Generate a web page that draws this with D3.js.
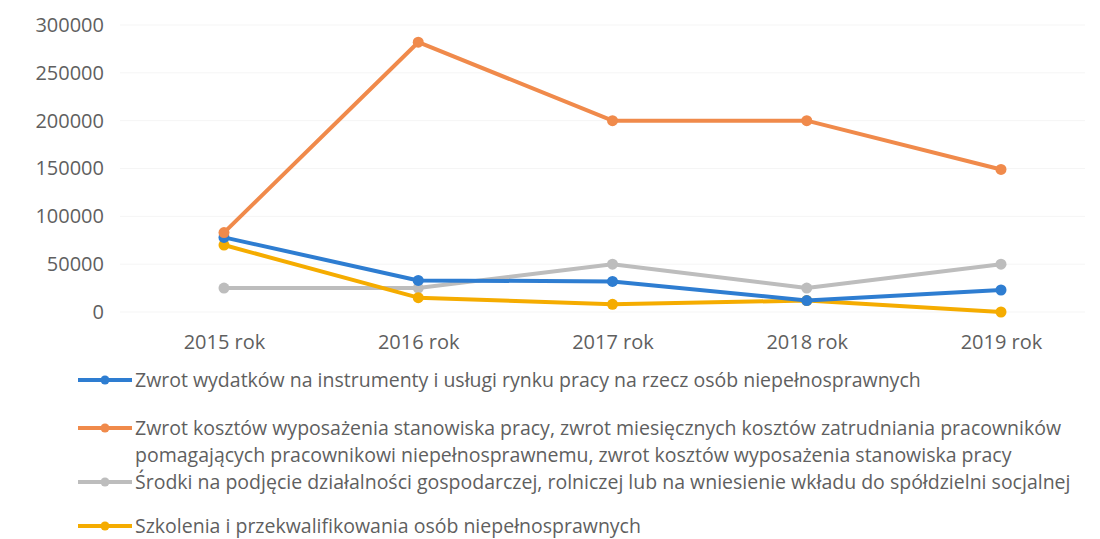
<!DOCTYPE html>
<html><head><meta charset="utf-8">
<script src="https://cdn.jsdelivr.net/npm/d3@7"></script>
<style>body{margin:0;background:#fff}svg{display:block}</style>
</head><body>
<svg id="c" width="1100" height="539"></svg>
<script>
const categories = ["2015 rok","2016 rok","2017 rok","2018 rok","2019 rok"];
const yTicks = [0,50000,100000,150000,200000,250000,300000];
const seriesNames = [
  "Zwrot wydatków na instrumenty i usługi rynku pracy na rzecz osób niepełnosprawnych",
  "Zwrot kosztów wyposażenia stanowiska pracy, zwrot miesięcznych kosztów zatrudniania pracowników|pomagających pracownikowi niepełnosprawnemu, zwrot kosztów wyposażenia stanowiska pracy",
  "Środki na podjęcie działalności gospodarczej, rolniczej lub na wniesienie wkładu do spółdzielni socjalnej",
  "Szkolenia i przekwalifikowania osób niepełnosprawnych"
];
const blueValues = [78000,33000,32000,12000,23000];
const orangeValues = [83000,282000,200000,200000,149000];
const grayValues = [25000,25000,50000,25000,50000];
const yellowValues = [70000,15000,8000,12000,0];
const colors = ["#2e7dd1","#f08a4b","#bdbdbd","#f5ac00"];
const allValues = [blueValues, orangeValues, grayValues, yellowValues];

const svg = d3.select("#c");
const x = d3.scalePoint().domain(categories).range([224,1001]);
const y = d3.scaleLinear().domain([0,300000]).range([312,25]);
const font = "'Open Sans', sans-serif";
const txt = "#5f5f5f";

svg.append("g").selectAll("line").data(yTicks).join("line")
  .attr("x1",120).attr("x2",1085).attr("y1",d=>y(d)).attr("y2",d=>y(d))
  .attr("stroke","#f5f5f5").attr("stroke-width",1);

const yAxis = svg.append("g").attr("transform","translate(104,0)")
  .call(d3.axisLeft(y).tickValues(yTicks).tickSize(0).tickPadding(0).tickFormat(d=>String(d)));
yAxis.select(".domain").remove();
yAxis.selectAll("text").attr("font-family",font).attr("font-size",20).attr("fill",txt);

const xAxis = svg.append("g").attr("transform","translate(0,330)")
  .call(d3.axisBottom(x).tickSize(0).tickPadding(0));
xAxis.select(".domain").remove();
xAxis.selectAll("text").attr("font-family",font).attr("font-size",20).attr("fill",txt)
  .attr("dy","0.35em").attr("y",12);

const line = d3.line().x((d,i)=>x(categories[i])).y(d=>y(d));
[2,3,0,1].forEach(si=>{
  const g = svg.append("g");
  g.append("path").datum(allValues[si]).attr("d",line)
    .attr("fill","none").attr("stroke",colors[si]).attr("stroke-width",4).attr("stroke-linejoin","round");
  g.selectAll("circle").data(allValues[si]).join("circle")
    .attr("cx",(d,i)=>x(categories[i])).attr("cy",d=>y(d)).attr("r",5.5).attr("fill",colors[si]);
});

const legendY = [380,428,482,526];
seriesNames.forEach((name,si)=>{
  const g = svg.append("g").attr("transform",`translate(0,${legendY[si]})`);
  g.append("line").attr("x1",78).attr("x2",132).attr("y1",0).attr("y2",0)
    .attr("stroke",colors[si]).attr("stroke-width",4);
  g.append("circle").attr("cx",105).attr("cy",0).attr("r",4.5).attr("fill",colors[si]);
  name.split("|").forEach((p,k)=>{
    g.append("text").attr("x",135).attr("y",k*27).attr("dy","0.35em")
      .attr("font-family",font).attr("font-size",19.5).attr("fill",txt).text(p);
  });
});
</script>
</body></html>
